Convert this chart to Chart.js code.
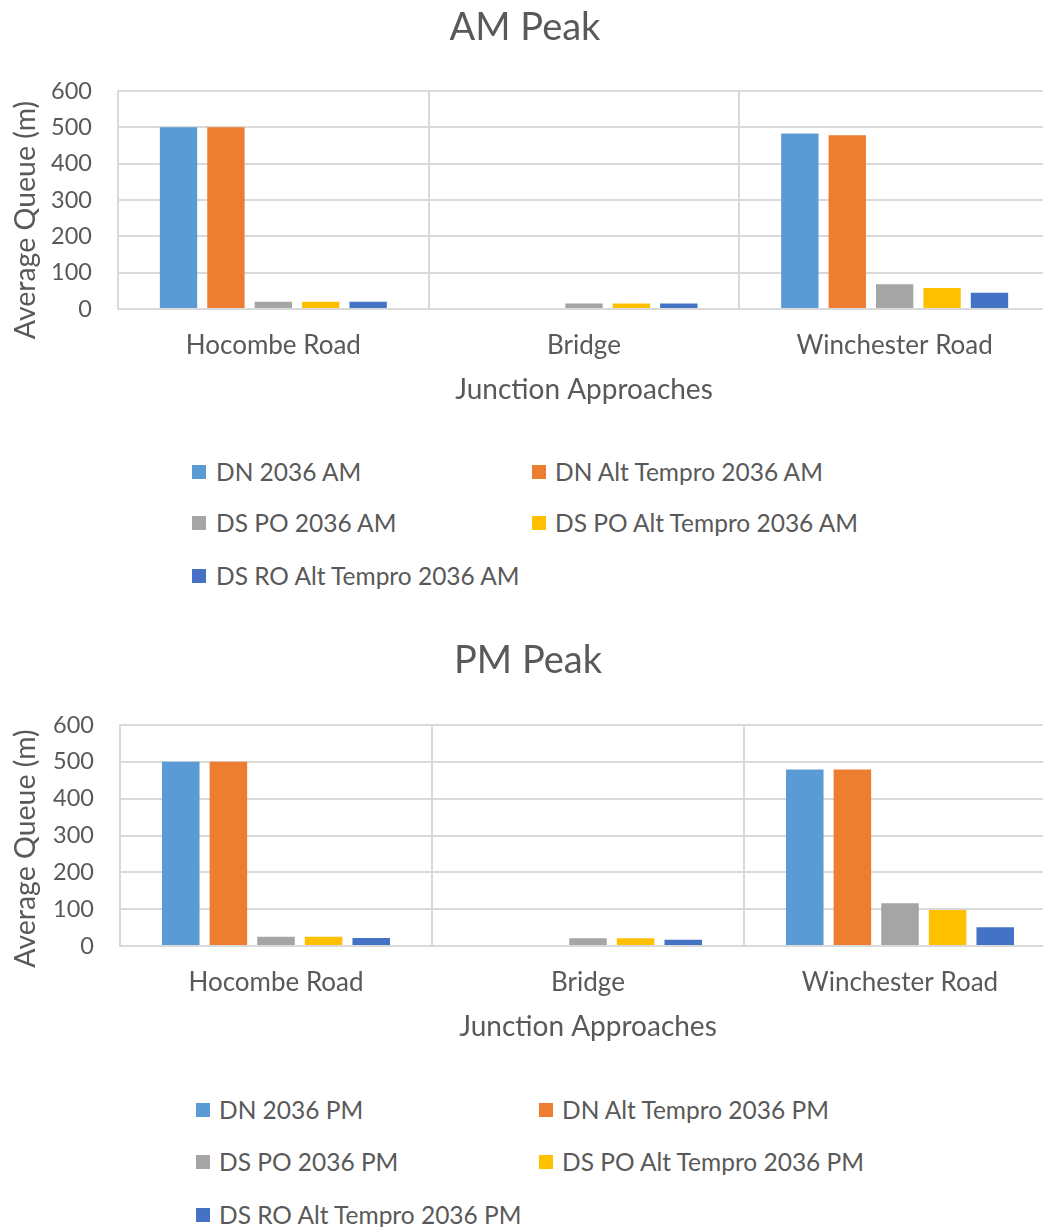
<!DOCTYPE html>
<html>
<head>
<meta charset="utf-8">
<script src="https://cdn.jsdelivr.net/npm/chart.js@4/dist/chart.umd.min.js"></script>
<style>
  html, body { margin: 0; padding: 0; background: #fff; overflow: hidden; width: 1043px; height: 1227px; }
  .panel { position: absolute; left: 0; }
  canvas { display: block; }
  .legend { position: absolute; left: 0; top: 0; font-family: Lato, sans-serif; font-size: 24.5px; color: #595959; }
  .item { position: absolute; white-space: nowrap; height: 30px; line-height: 30px; }
  .sw { position: absolute; width: 14px; height: 14px; }
</style>
</head>
<body>
<div class="panel" style="top:0px"><canvas id="amChart" width="1050" height="415"></canvas></div>
<div class="panel" style="top:633px"><canvas id="pmChart" width="1056" height="420"></canvas></div>
<div id="amLegend" class="legend"></div>
<div id="pmLegend" class="legend"></div>

<script>
// Junction approaches on the x axis
const categories = ['Hocombe Road', 'Bridge', 'Winchester Road'];
const yTickValues = [0, 100, 200, 300, 400, 500, 600];

// AM peak average queues (m)
const amSeriesLabels = ['DN 2036 AM', 'DN Alt Tempro 2036 AM', 'DS PO 2036 AM', 'DS PO Alt Tempro 2036 AM', 'DS RO Alt Tempro 2036 AM'];
const amDn2036 = [500, 0, 483];
const amDnAltTempro = [500, 0, 478];
const amDsPo2036 = [20, 15, 68];
const amDsPoAltTempro = [20, 15, 58];
const amDsRoAltTempro = [20, 15, 45];

// PM peak average queues (m)
const pmSeriesLabels = ['DN 2036 PM', 'DN Alt Tempro 2036 PM', 'DS PO 2036 PM', 'DS PO Alt Tempro 2036 PM', 'DS RO Alt Tempro 2036 PM'];
const pmDn2036 = [500, 0, 479];
const pmDnAltTempro = [500, 0, 479];
const pmDsPo2036 = [25, 21, 116];
const pmDsPoAltTempro = [25, 21, 98];
const pmDsRoAltTempro = [22, 17, 51];

const seriesColors = ['#5B9BD5', '#ED7D31', '#A5A5A5', '#FFC000', '#4472C4'];
const textColor = '#595959';
const gridColor = '#D9D9D9';
const fontFamily = 'Lato, sans-serif';

// Rotated y-axis title, centred a little below the plot middle
const yTitlePlugin = {
  id: 'yTitle',
  afterDraw(chart, args, opts) {
    const { ctx, chartArea } = chart;
    ctx.save();
    ctx.font = opts.size + 'px ' + fontFamily;
    ctx.fillStyle = textColor;
    ctx.textAlign = 'center';
    ctx.textBaseline = 'middle';
    ctx.translate(opts.x, (chartArea.top + chartArea.bottom) / 2 + opts.shift);
    ctx.rotate(-Math.PI / 2);
    ctx.fillText(opts.text, 0, 0);
    ctx.restore();
  }
};

function makeChart(canvasId, title, labels, series, lay) {
  const datasets = series.map((values, i) => ({
    label: labels[i],
    data: values,
    backgroundColor: seriesColors[i],
    borderWidth: 0,
    categoryPercentage: 0.763,
    barPercentage: 0.788
  }));
  const H = document.getElementById(canvasId).height;
  return new Chart(document.getElementById(canvasId), {
    type: 'bar',
    data: { labels: categories, datasets },
    plugins: [yTitlePlugin],
    options: {
      responsive: false,
      animation: false,
      layout: { padding: 0 },
      plugins: {
        legend: { display: false },
        tooltip: { enabled: false },
        title: {
          display: true,
          text: title,
          color: textColor,
          font: { family: fontFamily, size: 38, weight: 'normal' },
          padding: { top: lay.titleTop, bottom: lay.titleBottom }
        },
        yTitle: { text: 'Average Queue (m)', size: 28.5, x: lay.yTitleX, shift: lay.yTitleShift }
      },
      scales: {
        x: {
          grid: { display: true, offset: true, color: gridColor, lineWidth: 2, drawTicks: false },
          border: { display: true, color: gridColor, width: 2 },
          ticks: { color: textColor, font: { family: fontFamily, size: 26 }, padding: lay.xTickPad, maxRotation: 0 },
          title: {
            display: true,
            text: 'Junction Approaches',
            color: textColor,
            font: { family: fontFamily, size: 28 },
            padding: { top: 0, bottom: lay.xTitleBottom }
          },
          afterFit(scale) { scale.height = H - lay.areaBottom; }
        },
        y: {
          min: 0,
          max: 600,
          afterBuildTicks(scale) { scale.ticks = yTickValues.map(v => ({ value: v })); },
          grid: { color: gridColor, lineWidth: 2, drawTicks: false },
          border: { display: true, color: gridColor, width: 2 },
          ticks: { color: textColor, font: { family: fontFamily, size: 23.5 }, padding: lay.yTickPad },
          afterFit(scale) { scale.width = lay.areaLeft; }
        }
      }
    }
  });
}

// HTML legend in two columns, built from the chart's datasets
function buildLegend(chart, el, lay) {
  chart.data.datasets.forEach((ds, i) => {
    const col = i % 2, row = Math.floor(i / 2);
    const y = lay.rowY[row];
    const sw = document.createElement('div');
    sw.className = 'sw';
    sw.style.background = ds.backgroundColor;
    sw.style.left = lay.swX[col] + 'px';
    sw.style.top = (y - 7) + 'px';
    const item = document.createElement('div');
    item.className = 'item';
    item.textContent = ds.label;
    item.style.left = lay.textX[col] + 'px';
    item.style.top = (y - 15) + 'px';
    el.appendChild(sw);
    el.appendChild(item);
  });
}

const amLayout = { titleTop: 5, titleBottom: 40.4, areaLeft: 118, areaBottom: 309, yTickPad: 26, xTickPad: 21, xTitleBottom: 8.2, yTitleX: 26, yTitleShift: 20 };
const pmLayout = { titleTop: 5, titleBottom: 41.4, areaLeft: 120, areaBottom: 313, yTickPad: 26, xTickPad: 21, xTitleBottom: 9.2, yTitleX: 26, yTitleShift: 13 };

const amChart = makeChart('amChart', 'AM Peak', amSeriesLabels,
  [amDn2036, amDnAltTempro, amDsPo2036, amDsPoAltTempro, amDsRoAltTempro], amLayout);
const pmChart = makeChart('pmChart', 'PM Peak', pmSeriesLabels,
  [pmDn2036, pmDnAltTempro, pmDsPo2036, pmDsPoAltTempro, pmDsRoAltTempro], pmLayout);

buildLegend(amChart, document.getElementById('amLegend'), { rowY: [472, 523, 576], swX: [192, 532], textX: [216, 555] });
buildLegend(pmChart, document.getElementById('pmLegend'), { rowY: [1110, 1162, 1215], swX: [196, 539], textX: [219, 562] });
</script>
</body>
</html>
